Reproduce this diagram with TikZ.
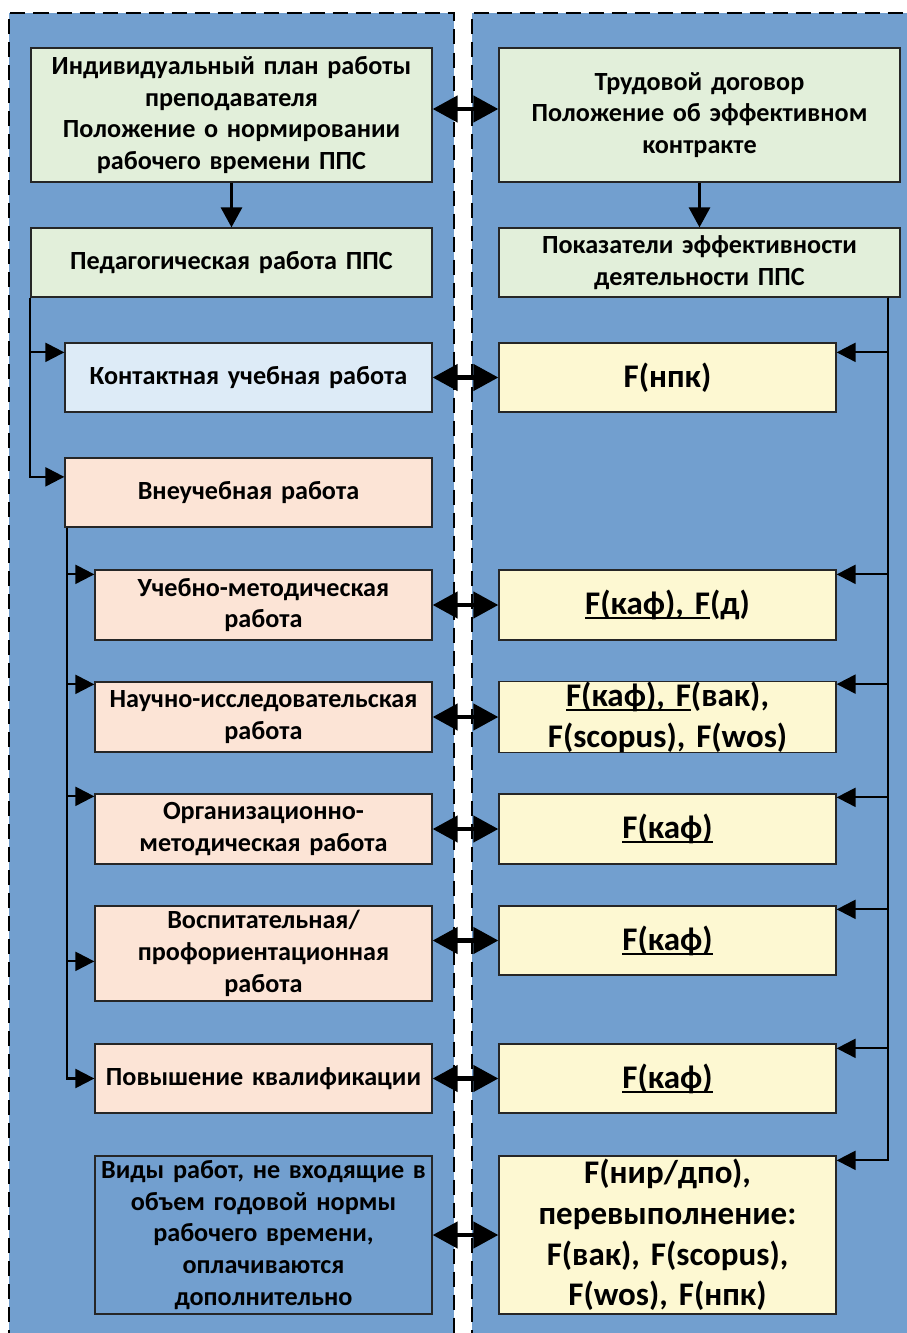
\documentclass[tikz,border=0pt]{standalone}
\usepackage{fontspec}
\setmainfont{Carlito}
\usetikzlibrary{arrows.meta}
\definecolor{panelblue}{HTML}{729FCF}
\definecolor{boxgreen}{HTML}{E2EFDA}
\definecolor{boxblue}{HTML}{DDEBF7}
\definecolor{boxpeach}{HTML}{FCE4D6}
\definecolor{boxyellow}{HTML}{FDF8D2}
\newcommand\ulx[1]{\setbox0\hbox{#1}\rlap{\rule[-4.5pt]{\wd0}{2pt}}\box0}
\tikzset{
  panel/.style={fill=panelblue},
  panelborder/.style={draw=black, line width=2pt, dash pattern=on 15pt off 8pt},
  box/.style={draw=black!85, line width=1.3pt, inner sep=0pt, align=center,
    font=\bfseries\fontsize{26.2}{31.7}\selectfont},
  big/.style={font=\bfseries\fontsize{33}{40.8}\selectfont},
  wA/.style={minimum width=401pt, text width=395pt},
  wB/.style={minimum width=367pt, text width=361pt},
  wC/.style={minimum width=337pt, text width=333pt},
  conn/.style={line width=2.2pt, -{Triangle[length=19pt,width=19pt]}},
  downarr/.style={line width=3pt, -{Triangle[length=20pt,width=21pt]}},
  dbl/.style={line width=4.5pt, {Triangle[length=25pt,width=26pt]}-{Triangle[length=25pt,width=26pt]}}
}
\begin{document}
\begin{tikzpicture}[x=1pt,y=-1pt]
\useasboundingbox (0,0) rectangle (907,1333);
\fill[white] (0,0) rectangle (907,1333);
% panels
\fill[panel] (9,12.5) rectangle (453.5,1345);
\draw[panelborder] (9,1345) -- (9,12.5) -- (453.5,12.5) -- (453.5,1345);
\fill[panel] (472,12.5) rectangle (925,1345);
\draw[panelborder] (472,1345) -- (472,12.5) -- (925,12.5);
% boxes
\node[box,wA,fill=boxgreen,minimum height=134pt] (b1) at (231.5,115)
  {Индивидуальный план работы\\преподавателя\\Положение о нормировании\\рабочего времени ППС};
\node[box,wA,fill=boxgreen,minimum height=134pt] (b2) at (699.5,115)
  {Трудовой договор\\Положение об эффективном\\контракте};
\node[box,wA,fill=boxgreen,minimum height=69pt] (b3) at (231.5,262.5)
  {Педагогическая работа ППС};
\node[box,wA,fill=boxgreen,minimum height=69pt] (b4) at (699.5,262.5)
  {Показатели эффективности\\деятельности ППС};
\node[box,wB,fill=boxblue,minimum height=69pt] (b5) at (248.5,377.5)
  {Контактная учебная работа};
\node[box,big,wC,fill=boxyellow,minimum height=69pt] (b6) at (667.5,377.5)
  {F(нпк)};
\node[box,wB,fill=boxpeach,minimum height=69pt] (b7) at (248.5,492.5)
  {Внеучебная работа};
\node[box,wC,fill=boxpeach,minimum height=70pt] (b8) at (263.5,605)
  {Учебно-методическая\\работа};
\node[box,big,wC,fill=boxyellow,minimum height=70pt] (b9) at (667.5,605)
  {\ulx{F(каф), F}(д)};
\node[box,wC,fill=boxpeach,minimum height=70pt] (b10) at (263.5,717)
  {Научно-исследовательская\\работа};
\node[box,big,wC,fill=boxyellow,minimum height=70pt] (b11) at (667.5,717)
  {\ulx{F(каф), F}(вак),\\F(scopus), F(wos)};
\node[box,wC,fill=boxpeach,minimum height=70pt] (b12) at (263.5,829)
  {Организационно-\\методическая работа};
\node[box,big,wC,fill=boxyellow,minimum height=70pt] (b13) at (667.5,829)
  {\ulx{F(каф)}};
\node[box,wC,fill=boxpeach,minimum height=95pt] (b14) at (263.5,953.5)
  {Воспитательная/\\профориентационная\\работа};
\node[box,big,wC,fill=boxyellow,minimum height=69pt] (b15) at (667.5,940.5)
  {\ulx{F(каф)}};
\node[box,wC,fill=boxpeach,minimum height=69pt] (b16) at (263.5,1078.5)
  {Повышение квалификации};
\node[box,big,wC,fill=boxyellow,minimum height=69pt] (b17) at (667.5,1078.5)
  {\ulx{F(каф)}};
\node[box,wC,minimum height=158pt] (b18) at (263.5,1235)
  {Виды работ, не входящие в\\объем годовой нормы\\рабочего времени,\\оплачиваются\\дополнительно};
\node[box,big,wC,fill=boxyellow,minimum height=158pt] (b19) at (667.5,1235)
  {F(нир/дпо),\\перевыполнение:\\F(вак), F(scopus),\\F(wos), F(нпк)};
% down arrows
\draw[downarr] (b1.south) -- (b3.north);
\draw[downarr] (b2.south) -- (b4.north);
% left tree
\draw[conn] (b3.south west) |- ([yshift=-10pt]b5.north west);
\draw[conn] (b3.south west) |- ([yshift=-19.5pt]b7.north west);
\coordinate (t2) at ([xshift=2.5pt]b7.south west);
\draw[conn] (t2) |- ([yshift=-5pt]b8.north west);
\draw[conn] (t2) |- ([yshift=-3pt]b10.north west);
\draw[conn] (t2) |- ([yshift=-3pt]b12.north west);
\draw[conn] (t2) |- ([yshift=-56pt]b14.north west);
\draw[conn] (t2) |- (b16.west);
% right tree
\coordinate (t3) at ([xshift=-13pt]b4.south east);
\draw[conn] (t3) |- ([yshift=-10pt]b6.north east);
\draw[conn] (t3) |- ([yshift=-5pt]b9.north east);
\draw[conn] (t3) |- ([yshift=-3pt]b11.north east);
\draw[conn] (t3) |- ([yshift=-4pt]b13.north east);
\draw[conn] (t3) |- ([yshift=-4pt]b15.north east);
\draw[conn] (t3) |- ([yshift=-5pt]b17.north east);
\draw[conn] (t3) |- ([yshift=-5pt]b19.north east);
% double arrows
\draw[dbl] ([yshift=6pt]b1.east) -- ([yshift=6pt]b2.west);
\draw[dbl] (b5.east) -- (b6.west);
\draw[dbl] (b8.east) -- (b9.west);
\draw[dbl] (b10.east) -- (b11.west);
\draw[dbl] (b12.east) -- (b13.west);
\draw[dbl] (b14.east |- b15.west) -- (b15.west);
\draw[dbl] (b16.east) -- (b17.west);
\draw[dbl] (b18.east) -- (b19.west);
\end{tikzpicture}
\end{document}
